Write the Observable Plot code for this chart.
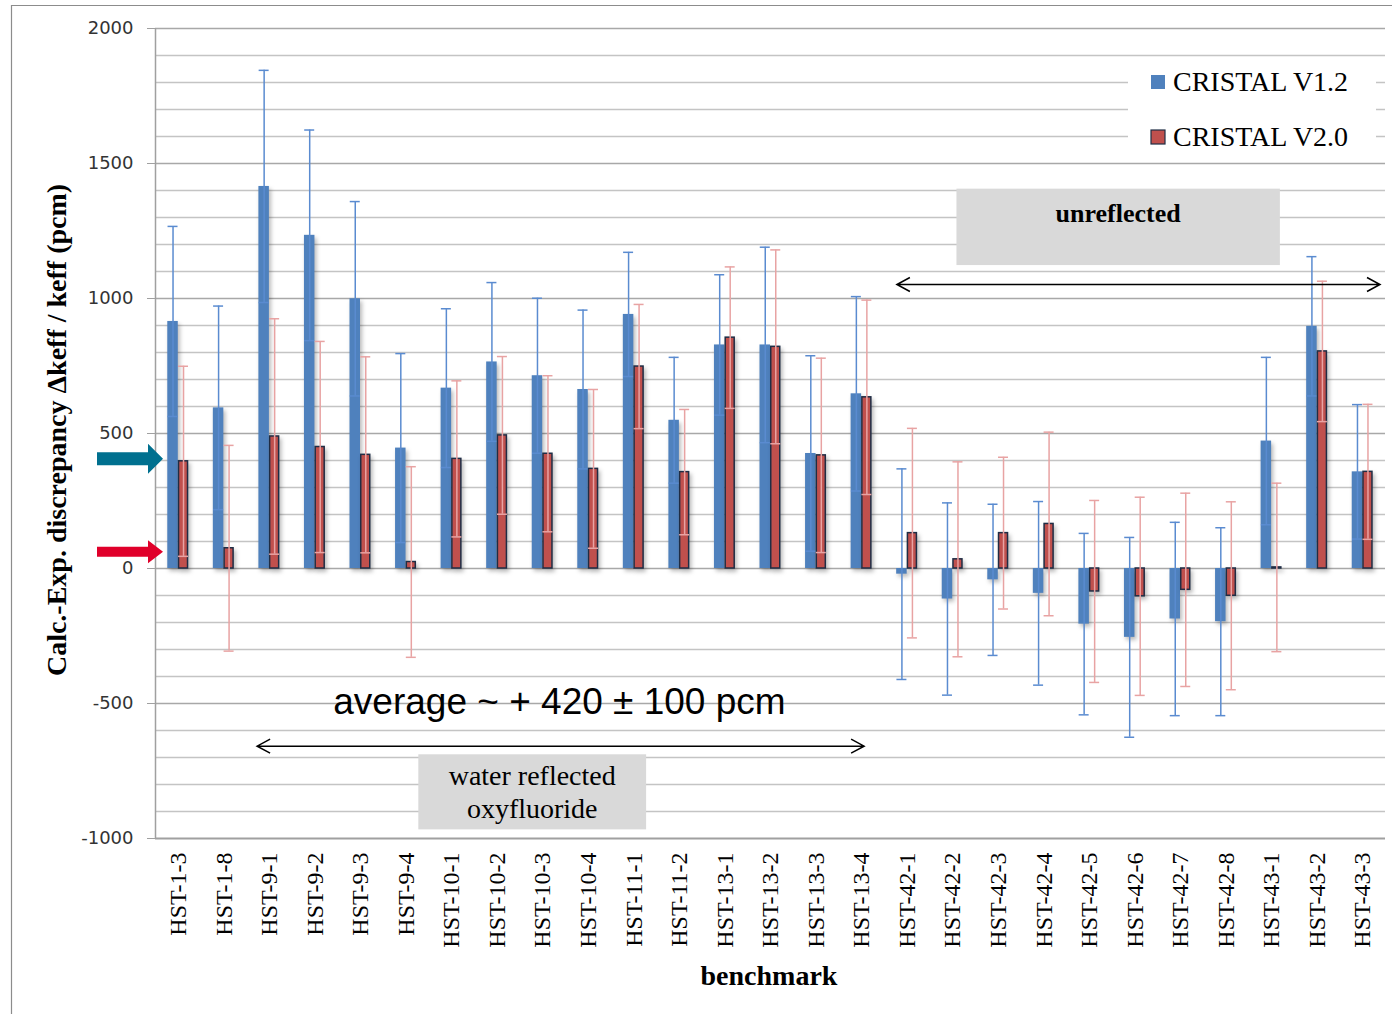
<!DOCTYPE html>
<html>
<head>
<meta charset="utf-8">
<script src="https://cdn.jsdelivr.net/npm/d3@7"></script>
<script src="https://cdn.jsdelivr.net/npm/@observablehq/plot@0.6"></script>
<style>
  html, body { margin: 0; padding: 0; background: #fff; }
  #chart { position: relative; width: 1392px; height: 1014px; overflow: hidden; }
  svg { display: block; }
</style>
</head>
<body>
<div id="chart"></div>
<script>
// ---------- data ----------
const categories = ["HST-1-3","HST-1-8","HST-9-1","HST-9-2","HST-9-3","HST-9-4","HST-10-1","HST-10-2","HST-10-3","HST-10-4","HST-11-1","HST-11-2","HST-13-1","HST-13-2","HST-13-3","HST-13-4","HST-42-1","HST-42-2","HST-42-3","HST-42-4","HST-42-5","HST-42-6","HST-42-7","HST-42-8","HST-43-1","HST-43-2","HST-43-3"];
const v12  = [915, 595, 1415, 1234, 999, 446, 668, 765, 714, 663, 941, 549, 828, 828, 426, 647, -21, -113, -42, -92, -206, -255, -187, -197, 472, 897, 358];
const err12 = [352, 377, 430, 390, 360, 350, 294, 294, 287, 294, 230, 233, 260, 362, 362, 360, 390, 356, 280, 340, 336, 370, 358, 348, 310, 258, 249];
const v20  = [397, 75, 489, 450, 421, 24, 406, 493, 425, 369, 748, 357, 855, 821, 419, 634, 131, 34, 131, 165, -85, -103, -79, -101, 4, 804, 358];
const err20 = [352, 381, 436, 391, 363, 353, 289, 292, 289, 294, 230, 232, 262, 359, 360, 360, 388, 361, 281, 340, 337, 367, 358, 348, 312, 260, 250];
const seriesNames = ["CRISTAL V1.2", "CRISTAL V2.0"];
const yTicks = [-1000, -500, 0, 500, 1000, 1500, 2000];
const yTitle = "Calc.-Exp. discrepancy \u0394keff / keff (pcm)";
const xTitle = "benchmark";
const averageNote = "average ~ + 420 \u00b1 100 pcm";
const boxUnreflected = ["unreflected"];
const boxWater = ["water reflected", "oxyfluoride"];
const arrowValues = [405, 60];   // left-side marker arrows (pcm)

// ---------- build ----------
const W = 1392, H = 1014;
const mL = 155, mR = 7, mT = 28, mB = 176;
const bw = (W - mL - mR) / categories.length;
const half = bw / 2;
const barW = 10.5;
const capHalf = 5;

const rows12 = categories.map((c, i) => ({cat: c, v: v12[i], lo: v12[i] - err12[i], hi: v12[i] + err12[i]}));
const rows20 = categories.map((c, i) => ({cat: c, v: v20[i], lo: v20[i] - err20[i], hi: v20[i] + err20[i]}));
const grid = d3.range(-1000, 2001, 100);

const blue = "#4f81bd", red = "#c0504d";
const blueErr = "#5a8bd0", redErr = "#e8a3a3";

const chart = Plot.plot({
  width: W, height: H,
  marginLeft: mL, marginRight: mR, marginTop: mT, marginBottom: mB,
  x: {domain: categories, padding: 0, round: false, axis: null},
  y: {domain: [-1000, 2000], axis: null},
  style: {background: "transparent", overflow: "visible"},
  marks: [
    Plot.ruleY(grid.filter(d => d % 500 !== 0), {stroke: "#c4c4c4", strokeWidth: 1.4}),
    Plot.ruleY(grid.filter(d => d % 500 === 0 && d !== -1000), {stroke: "#a8a8a8", strokeWidth: 1.6}),
    Plot.ruleY([-1000], {stroke: "#a0a0a0", strokeWidth: 2}),
    Plot.ruleX([categories[0]], {dx: -half, stroke: "#a0a0a0", strokeWidth: 1.5}),
    Plot.axisY({ticks: yTicks, tickSize: 8, tickPadding: 14, tickFormat: d => String(d), label: null,
      stroke: "#a0a0a0", fill: "#333", fontSize: 18, fontFamily: "DejaVu Sans"}),
    Plot.axisX({tickSize: 0, tickPadding: 14, tickRotate: -90, fill: "#000", label: null,
      fontSize: 24, fontFamily: "Liberation Serif"}),
    Plot.barY(rows12, {x: "cat", y: "v", fill: blue, insetLeft: half - barW, insetRight: half}),
    Plot.barY(rows20, {x: "cat", y: "v", fill: red, stroke: "#1f2d45", strokeWidth: 1.5,
      insetLeft: half + 0.75, insetRight: half - barW + 0.75}),
    // error bars V1.2
    Plot.ruleX(rows12, {x: "cat", y1: "lo", y2: "hi", dx: -barW / 2, stroke: blueErr, strokeWidth: 1.5}),
    Plot.tickY(rows12, {x: "cat", y: "hi", stroke: blueErr, strokeWidth: 1.5,
      insetLeft: half - barW / 2 - capHalf, insetRight: half + barW / 2 - capHalf}),
    Plot.tickY(rows12, {x: "cat", y: "lo", stroke: blueErr, strokeWidth: 1.5,
      insetLeft: half - barW / 2 - capHalf, insetRight: half + barW / 2 - capHalf}),
    // error bars V2.0
    Plot.ruleX(rows20, {x: "cat", y1: "lo", y2: "hi", dx: barW / 2, stroke: redErr, strokeWidth: 1.5}),
    Plot.tickY(rows20, {x: "cat", y: "hi", stroke: redErr, strokeWidth: 1.5,
      insetLeft: half + barW / 2 - capHalf, insetRight: half - barW / 2 - capHalf}),
    Plot.tickY(rows20, {x: "cat", y: "lo", stroke: redErr, strokeWidth: 1.5,
      insetLeft: half + barW / 2 - capHalf, insetRight: half - barW / 2 - capHalf})
  ]
});

document.getElementById("chart").appendChild(chart);

// bar shadows
d3.select(chart).selectAll('g[aria-label="bar"]')
  .style("filter", "drop-shadow(2px 3px 2px rgba(0,0,0,0.28))");

const xs = chart.scale("x"), ys = chart.scale("y");
const xStart = c => xs.apply(c);            // band start
const xCenter = c => xs.apply(c) + half;
const svg = d3.select(chart);
const ov = svg.append("g").attr("class", "overlay").attr("text-anchor", "start");

// outer frame
ov.append("path").attr("d", `M11.5,${H}V5.5H${W}`).attr("fill", "none").attr("stroke", "#8c8c8c").attr("stroke-width", 1.2);

// y title
ov.append("text")
  .attr("transform", `translate(66,${(ys.apply(2000) + ys.apply(-1000)) / 2 - 3}) rotate(-90)`)
  .attr("text-anchor", "middle")
  .attr("font-family", "Liberation Serif").attr("font-weight", "bold").attr("font-size", 28)
  .text(yTitle);

// x title
ov.append("text")
  .attr("x", (mL + W - mR) / 2 - 1).attr("y", 985)
  .attr("text-anchor", "middle")
  .attr("font-family", "Liberation Serif").attr("font-weight", "bold").attr("font-size", 28)
  .text(xTitle);

// left marker arrows
const arrowColors = ["#00708f", "#e0002a"];
const arrowShapes = [{shaftH: 13, headH: 30}, {shaftH: 10, headH: 23}];
arrowValues.forEach((v, i) => {
  const y = ys.apply(v), s = arrowShapes[i];
  const x0 = 97, xh = 148, xt = 163;
  ov.append("path")
    .attr("d", `M${x0},${y - s.shaftH / 2}H${xh}V${y - s.headH / 2}L${xt},${y}L${xh},${y + s.headH / 2}V${y + s.shaftH / 2}H${x0}Z`)
    .attr("fill", arrowColors[i]);
});

// legend (white box hiding gridlines)
ov.append("rect").attr("x", 1128).attr("y", 60).attr("width", 248).attr("height", 101).attr("fill", "#fff");
const legColors = [blue, red];
seriesNames.forEach((name, i) => {
  const cy = 82 + i * 55;
  ov.append("rect").attr("x", 1151).attr("y", cy - 7).attr("width", 14).attr("height", 14)
    .attr("fill", legColors[i]).attr("stroke", i === 1 ? "#1f2d45" : "none").attr("stroke-width", 1.2);
  ov.append("text").attr("x", 1173).attr("y", cy + 9).attr("text-anchor", "start")
    .attr("font-family", "Liberation Serif").attr("font-size", 28).text(name);
});

// double arrow helper
function dblArrow(x1, x2, y) {
  ov.append("path")
    .attr("d", `M${x1},${y}H${x2}M${x1 + 13},${y - 7}L${x1},${y}L${x1 + 13},${y + 7}M${x2 - 13},${y - 7}L${x2},${y}L${x2 - 13},${y + 7}`)
    .attr("fill", "none").attr("stroke", "#000").attr("stroke-width", 1.5);
}

// "unreflected" annotation
{
  const x1 = xStart("HST-42-2") + 27, x2 = xStart("HST-43-2") - 14;
  const y1 = ys.apply(1405), y2 = ys.apply(1122);
  ov.append("rect").attr("x", x1).attr("y", y1).attr("width", x2 - x1).attr("height", y2 - y1).attr("fill", "#d9d9d9");
  ov.append("text").attr("x", (x1 + x2) / 2).attr("y", y1 + 33).attr("text-anchor", "middle")
    .attr("font-family", "Liberation Serif").attr("font-weight", "bold").attr("font-size", 26).text(boxUnreflected[0]);
  dblArrow(xStart("HST-42-1") + 13, W - mR - 5, ys.apply(1050));
}

// "water reflected" annotation
{
  const x1 = xStart("HST-10-1") - 10, x2 = xStart("HST-11-2") - 10;
  const y1 = ys.apply(-690), y2 = ys.apply(-968);
  ov.append("rect").attr("x", x1).attr("y", y1).attr("width", x2 - x1).attr("height", y2 - y1).attr("fill", "#d9d9d9");
  boxWater.forEach((t, i) => {
    ov.append("text").attr("x", (x1 + x2) / 2).attr("y", y1 + 31 + i * 33).attr("text-anchor", "middle")
      .attr("font-family", "Liberation Serif").attr("font-size", 28).text(t);
  });
  dblArrow(xStart("HST-9-1") + 11, xCenter("HST-13-4") + 3, ys.apply(-660));
  ov.append("text").attr("x", xStart("HST-10-3") + 40).attr("y", ys.apply(-540))
    .attr("text-anchor", "middle")
    .attr("font-family", "Liberation Sans, Arial").attr("font-size", 37).text(averageNote);
}
</script>
</body>
</html>
